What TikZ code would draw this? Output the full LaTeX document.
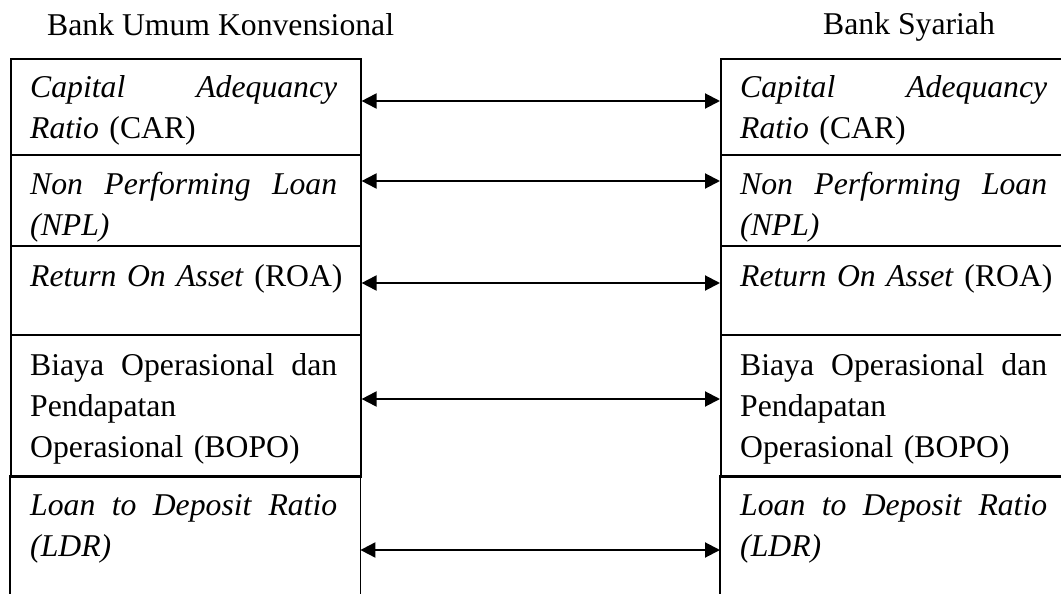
\documentclass[tikz,border=0pt]{standalone}
\usepackage{fontspec}
\setmainfont{Liberation Serif}
\usetikzlibrary{arrows.meta}
\begin{document}
\begin{tikzpicture}[x=1pt,y=-1pt,
  cell/.style={rectangle, draw, line width=1.6pt, inner sep=0pt, minimum width=350pt, anchor=north west},
  opencell/.style={rectangle, inner sep=0pt, minimum width=350pt, anchor=north west},
  txt/.style={anchor=base west, inner sep=0pt, text width=307pt, align=left, font=\fontsize{31.7}{41}\selectfont},
  title/.style={anchor=base west, inner sep=0pt, font=\fontsize{31.7}{41}\selectfont},
  border/.style={line width=1.6pt},
  link/.style={line width=2pt, {Triangle[length=15pt,width=15pt]}-{Triangle[length=15pt,width=15pt]}}]
\useasboundingbox (0,0) rectangle (1061,594);
\clip (0,0) rectangle (1061,594);
% titles
\node[title] (tl) at (47,36) {Bank Umum Konvensional};
\node[title] (tr) at (823,35) {Bank Syariah};
% cells
\foreach \s/\x in {L/10, R/720}{
  \node[cell, minimum height=96pt] (\s1) at (\x,58) {};
  \node[cell, minimum height=91pt] (\s2) at (\x,154) {};
  \node[cell, minimum height=89pt] (\s3) at (\x,245) {};
  \node[cell, minimum height=142pt] (\s4) at (\x,334) {};
  \node[opencell, minimum height=130pt] (\s5) at (\x,476) {};
  \draw[border] (\s5.south west) -- (\s5.north west) -- (\s5.north east) -- (\s5.south east);
}
% texts
\foreach \s/\x in {L/30, R/740}{
  \node[txt] (\s t1) at (\x,97) {\textit{Capital}\hfill\textit{Adequancy}\\\textit{Ratio} (CAR)};
  \node[txt] (\s t2) at (\x,194) {\textit{Non}\hfill\textit{Performing}\hfill\textit{Loan}\\\textit{(NPL)}};
  \node[txt] (\s t3) at (\x,286) {\mbox{\textit{Return On Asset} (ROA)}};
  \node[txt] (\s t4) at (\x,375) {Biaya\hfill Operasional\hfill dan\\Pendapatan\\Operasional (BOPO)};
  \node[txt] (\s t5) at (\x,515) {\textit{Loan}\hfill\textit{to}\hfill\textit{Deposit}\hfill\textit{Ratio}\\\textit{(LDR)}};
}
% connectors
\draw[link] (L1.east |- 0,101) -- (R1.west |- 0,101);
\draw[link] (L2.east |- 0,181) -- (R2.west |- 0,181);
\draw[link] (L3.east |- 0,283) -- (R3.west |- 0,283);
\draw[link] (L4.east |- 0,399) -- (R4.west |- 0,399);
\draw[link] (L5.east |- 0,550) -- (R5.west |- 0,550);
\end{tikzpicture}
\end{document}
